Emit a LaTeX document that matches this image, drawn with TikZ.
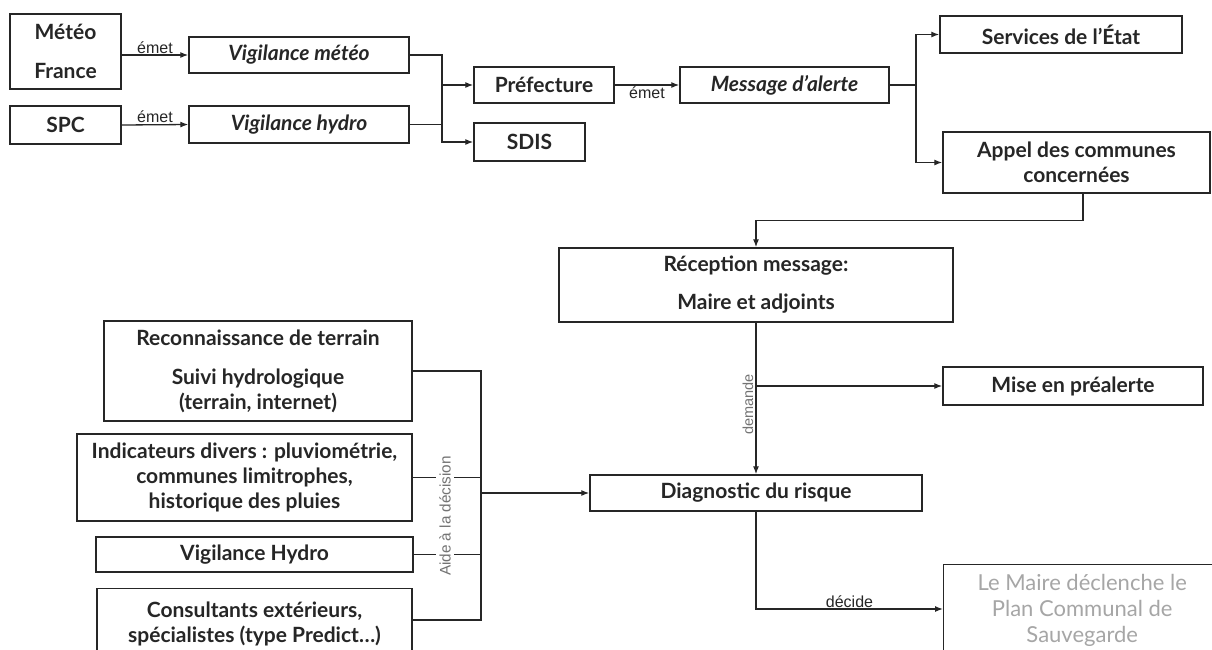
\documentclass[tikz,border=0pt]{standalone}
\usepackage{fontspec}
\setmainfont{Lato}
\newfontfamily\arialf{Liberation Sans}
\usetikzlibrary{arrows.meta}
\definecolor{ink}{HTML}{262626}
\tikzset{
  bx/.style={draw=ink, line width=1.4pt, inner sep=0pt, align=center, text=ink,
    font=\bfseries\fontsize{21}{25}\selectfont},
  itbx/.style={bx, font=\bfseries\itshape\fontsize{21}{25}\selectfont},
  ln/.style={draw=ink, line width=1.3pt},
  arr/.style={ln, -{Latex[length=8pt,width=6pt]}},
  lab/.style={font=\arialf\fontsize{16}{18}\selectfont, text=ink, inner sep=2pt},
}
\begin{document}
\begin{tikzpicture}[x=1pt,y=-1pt]
\clip (0,0) rectangle (1212,649);
\fill[white] (0,0) rectangle (1212,649);
% top row
\node[bx, minimum width=111pt, minimum height=75pt] (meteo) at (65.5,51.5) {Météo\\[14pt]France};
\node[itbx, minimum width=220pt, minimum height=36pt] (vigm) at (299,55) {Vigilance météo};
\node[bx, minimum width=111pt, minimum height=38pt] (spc) at (65.5,125) {SPC};
\node[itbx, minimum width=220pt, minimum height=37pt] (vigh) at (299,124.5) {Vigilance hydro};
\node[bx, minimum width=140pt, minimum height=36pt] (pref) at (544,85) {Préfecture};
\node[bx, minimum width=111pt, minimum height=38pt] (sdis) at (529.5,142) {SDIS};
\node[itbx, minimum width=209pt, minimum height=36pt] (msg) at (784.5,85) {Message d’alerte};
\node[bx, minimum width=242pt, minimum height=37pt] (serv) at (1061,34.5) {Services de l’État};
\node[bx, minimum width=267pt, minimum height=61pt] (appel) at (1076.5,162.5) {Appel des communes\\concernées};
% middle
\node[bx, minimum width=394pt, minimum height=74pt] (recep) at (756,285) {Réception message:\\[13pt]Maire et adjoints};
\node[bx, minimum width=260pt, minimum height=38pt] (mise) at (1073,386) {Mise en préalerte};
\node[bx, minimum width=332pt, minimum height=36pt] (diag) at (756,493) {Diagnostic du risque};
\node[bx, minimum width=277pt, minimum height=92pt, anchor=north west, font=\fontsize{22}{26}\selectfont, text=black!35] (plan) at (943,564) {Le Maire déclenche le\\Plan Communal de\\Sauvegarde};
% left column
\node[bx, minimum width=308pt, minimum height=100pt] (recon) at (258,371) {Reconnaissance de terrain\\[14pt]Suivi hydrologique\\(terrain, internet)};
\node[bx, minimum width=335pt, minimum height=87pt] (indic) at (244.5,477.5) {Indicateurs divers : pluviométrie,\\communes limitrophes,\\historique des pluies};
\node[bx, minimum width=317pt, minimum height=35pt] (vigH) at (254.5,554.5) {Vigilance Hydro};
\node[bx, minimum width=315pt, minimum height=70pt, anchor=north] (consult) at (254.5,588) {Consultants extérieurs,\\spécialistes (type Predict…)};
% junctions
\coordinate (jA) at (442,85);
\coordinate (jB) at (916,85);
\coordinate (jE) at (481,493);
% connectors top
\draw[arr] (meteo.east |- vigm.west) -- (vigm.west) node[lab, midway, above, yshift=-1pt] {émet};
\draw[arr] (spc.east) -- (vigh.west) node[lab, midway, above, yshift=-1pt] {émet};
\draw[arr] (vigm.east) -| (jA) |- (sdis.west);
\draw[ln] (vigh.east) -- (vigh.east -| jA);
\draw[arr] (jA) -- (pref.west);
\draw[arr] (pref.east) -- (msg.west) node[lab, midway, below, yshift=1pt] {émet};
\draw[ln] (msg.east) -- (jB);
\draw[arr] (jB) |- (serv.west);
\draw[arr] (jB) |- (appel.west);
\draw[arr] ([xshift=6.5pt]appel.south) -- ++(0,27) -| (recep.north);
% middle
\draw[arr] (recep.south) -- (diag.north) node[lab, pos=0.54, rotate=90, anchor=south, text=black!55, font=\arialf\fontsize{14.5}{16}\selectfont] {demande};
\draw[arr] (recep.south |- mise.west) -- (mise.west);
\draw[arr] (diag.south) |- (plan.west |- 0,609) node[lab, pos=0.75, above, yshift=-1pt] {décide};
% left
\draw[ln] (recon.east) -| (jE);
\draw[ln] (consult.east |- 0,620) -| (jE);
\draw[ln] (indic.east) -- (indic.east -| jE);
\draw[ln] (vigH.east) -- (vigH.east -| jE);
\draw[arr] (jE) -- (diag.west);
\node[lab, rotate=90, fill=white, inner sep=3pt, text=black!55, font=\arialf\fontsize{15.3}{16}\selectfont] (aide) at (445,516) {Aide à la décision};
\end{tikzpicture}
\end{document}
